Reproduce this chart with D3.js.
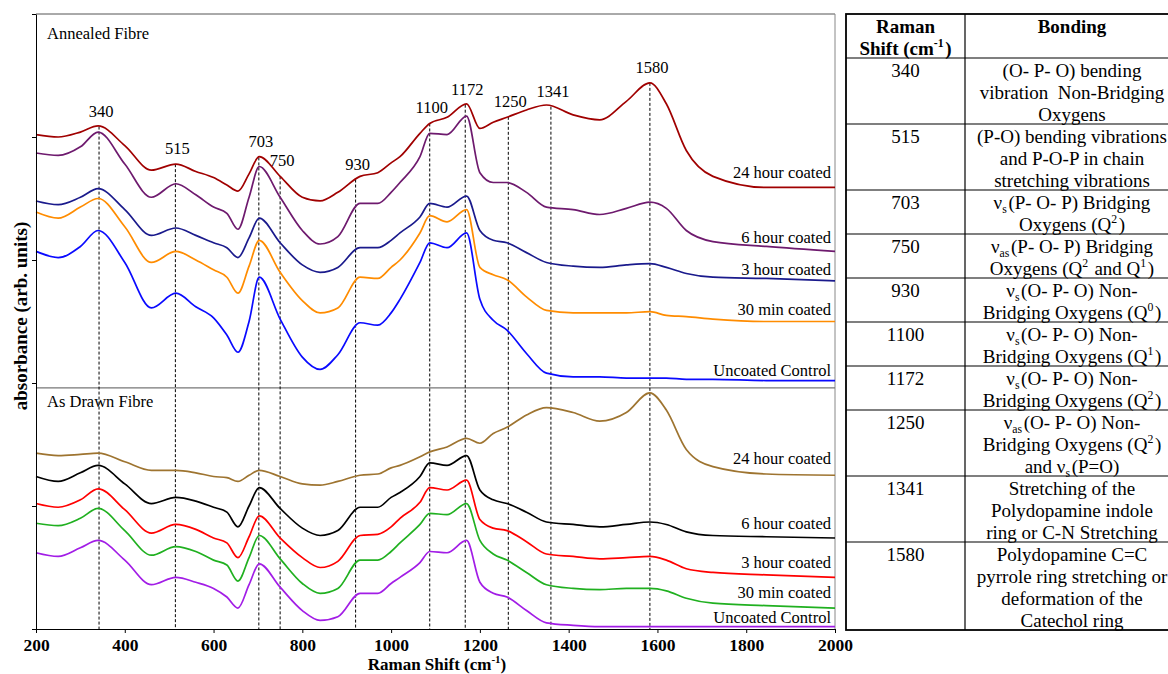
<!DOCTYPE html>
<html><head><meta charset="utf-8">
<script src="https://cdn.jsdelivr.net/npm/d3@7"></script>
<style>
html,body{margin:0;padding:0;background:#fff;}
svg{display:block;}
text{font-family:"Liberation Serif","Times New Roman",serif;fill:#000;}
</style></head><body>
<svg id="chart" width="1168" height="674"></svg>
<script>
// ---------- DATA ----------
const wavenumbers = [200,250,300,340,400,460,515,560,600,630,655,680,703,750,800,840,880,930,970,1000,1020,1065,1087,1126,1170,1200,1230,1261,1305,1350,1410,1470,1530,1583,1620,1665,1725,1845,2000];

// Annealed fibre (upper panel), absorbance in arb. units (stacked)
const annealed24h = [4.02,4.00,4.04,4.09,3.93,3.73,3.78,3.72,3.67,3.61,3.56,3.70,3.84,3.68,3.51,3.48,3.55,3.68,3.71,3.79,3.84,4.03,4.11,4.16,4.27,4.07,4.12,4.16,4.22,4.26,4.18,4.14,4.29,4.44,4.27,3.89,3.68,3.59,3.59];
const annealed6h  = [3.87,3.85,3.92,4.04,3.78,3.51,3.62,3.53,3.43,3.38,3.25,3.51,3.76,3.51,3.24,3.13,3.19,3.46,3.46,3.55,3.63,3.84,4.03,4.02,4.17,3.71,3.63,3.63,3.55,3.43,3.41,3.37,3.42,3.47,3.42,3.24,3.15,3.11,3.07];
const annealed3h  = [3.48,3.45,3.51,3.58,3.41,3.20,3.26,3.20,3.14,3.10,3.02,3.18,3.34,3.14,2.96,2.90,2.94,3.10,3.10,3.16,3.22,3.35,3.46,3.43,3.52,3.24,3.16,3.14,3.06,2.98,2.95,2.94,2.96,2.97,2.94,2.89,2.86,2.85,2.83];
const annealed30m = [3.39,3.34,3.43,3.50,3.27,2.98,3.07,3.00,2.92,2.86,2.73,2.95,3.16,2.90,2.67,2.57,2.61,2.86,2.85,2.94,3.00,3.22,3.36,3.31,3.41,2.94,2.88,2.84,2.70,2.59,2.57,2.57,2.57,2.58,2.55,2.54,2.52,2.50,2.50];
const annealedCtl = [3.07,3.02,3.11,3.24,2.98,2.61,2.73,2.62,2.53,2.39,2.25,2.50,2.86,2.52,2.21,2.11,2.23,2.49,2.47,2.57,2.68,2.98,3.14,3.10,3.22,2.68,2.51,2.43,2.24,2.08,2.05,2.05,2.04,2.04,2.04,2.03,2.03,2.02,2.02];

// As drawn fibre (lower panel)
const drawn24h = [1.43,1.41,1.42,1.43,1.36,1.29,1.29,1.27,1.24,1.23,1.20,1.25,1.29,1.24,1.18,1.17,1.20,1.25,1.26,1.31,1.33,1.40,1.44,1.48,1.55,1.51,1.59,1.64,1.74,1.80,1.76,1.69,1.76,1.92,1.78,1.46,1.32,1.26,1.25];
const drawn6h  = [1.24,1.20,1.27,1.33,1.18,1.02,1.07,1.04,0.99,0.95,0.83,1.00,1.15,0.98,0.82,0.76,0.80,0.99,0.99,1.07,1.11,1.24,1.35,1.33,1.41,1.13,1.05,1.02,0.95,0.87,0.85,0.83,0.85,0.87,0.85,0.79,0.76,0.75,0.74];
const drawn3h  = [1.02,0.99,1.05,1.14,0.97,0.78,0.85,0.81,0.74,0.70,0.58,0.75,0.92,0.74,0.58,0.50,0.55,0.76,0.77,0.83,0.90,1.03,1.15,1.13,1.21,0.89,0.82,0.80,0.71,0.61,0.59,0.57,0.58,0.59,0.56,0.49,0.46,0.44,0.42];
const drawn30m = [0.86,0.84,0.90,0.98,0.80,0.60,0.67,0.63,0.56,0.52,0.39,0.58,0.76,0.57,0.37,0.29,0.33,0.56,0.56,0.63,0.70,0.85,0.94,0.93,1.02,0.72,0.61,0.56,0.46,0.36,0.33,0.32,0.33,0.33,0.31,0.25,0.21,0.19,0.17];
const drawnCtl = [0.62,0.59,0.66,0.72,0.56,0.36,0.42,0.38,0.33,0.26,0.17,0.36,0.53,0.34,0.15,0.07,0.10,0.29,0.29,0.37,0.42,0.54,0.63,0.62,0.72,0.38,0.29,0.26,0.15,0.05,0.03,0.02,0.02,0.02,0.02,0.02,0.02,0.02,0.02];

const seriesNames = ["24 hour coated","6 hour coated","3 hour coated","30 min coated","Uncoated Control"];
const annealedColors = ["#a00000","#6e1a6e","#1a1a8c","#ff8c00","#0a0aff"];
const drawnColors    = ["#9e7430","#000000","#ff0000","#20b020","#a21de6"];

const panelTitles = ["Annealed Fibre","As Drawn Fibre"];
const panelDivider = 1.96;

const peakPositions = [342,514,702,750,920,1087,1167,1264,1360,1583];
const peakLabels    = ["340","515","703","750","930","1100","1172","1250","1341","1580"];

const xTicks = [200,400,600,800,1000,1200,1400,1600,1800,2000];
const yTicks = [0,1,2,3,4,5];

const tableShifts = ["340","515","703","750","930","1100","1172","1250","1341","1580"];
const tableBonding = [
  ["(O- P- O) bending","vibration  Non-Bridging","Oxygens"],
  ["(P-O) bending vibrations","and P-O-P in chain","stretching vibrations"],
  ["ν_{s}(P- O- P) Bridging","Oxygens (Q^{2})"],
  ["ν_{as}(P- O- P) Bridging","Oxygens (Q^{2} and Q^{1})"],
  ["ν_{s}(O- P- O) Non-","Bridging Oxygens (Q^{0})"],
  ["ν_{s}(O- P- O) Non-","Bridging Oxygens (Q^{1})"],
  ["ν_{s}(O- P- O) Non-","Bridging Oxygens (Q^{2})"],
  ["ν_{as}(O- P- O) Non-","Bridging Oxygens (Q^{2})","and ν_{s}(P=O)"],
  ["Stretching of the","Polydopamine indole","ring or C-N Stretching"],
  ["Polydopamine C=C","pyrrole ring stretching or","deformation of the","Catechol ring"]
];
const tableHeader = [["Raman","Shift (cm^{-1})"],["Bonding"]];

// ---------- DRAWING ----------
const svg = d3.select("#chart");
svg.append("rect").attr("width",1168).attr("height",674).attr("fill","#fff");

const x = d3.scaleLinear().domain([200,2000]).range([36,835]);
const y = d3.scaleLinear().domain([0,5]).range([629,14]);

// label offsets (px above the series' last point)
const annealedLabelDy = [9.5,8.5,5.5,6.5,4.5];
const drawnLabelDy    = [11.5,8.5,9.5,10.5,3.5];

const g = svg.append("g");

// frame (top, right) and panel divider
g.append("line").attr("x1",x(200)).attr("x2",x(2000)).attr("y1",y(5)).attr("y2",y(5)).attr("stroke","#555").attr("stroke-width",1);
g.append("line").attr("x1",x(2000)).attr("x2",x(2000)).attr("y1",y(5)).attr("y2",y(0)).attr("stroke","#888").attr("stroke-width",1);
g.append("line").attr("x1",x(200)).attr("x2",x(2000)).attr("y1",y(panelDivider)).attr("y2",y(panelDivider)).attr("stroke","#777").attr("stroke-width",1.2);

function interp(arr, w){
  return d3.scaleLinear().domain(wavenumbers).range(arr)(w);
}

// dashed peak marker lines + labels
const peaks = peakPositions.map((p,i)=>({p, label:peakLabels[i], top:interp(annealed24h,p)}));
g.selectAll(".peakline").data(peaks).join("line")
  .attr("x1",d=>x(d.p)).attr("x2",d=>x(d.p))
  .attr("y1",d=>y(d.top)).attr("y2",y(0))
  .attr("stroke","#000").attr("stroke-width",1).attr("stroke-dasharray","3,2");
g.selectAll(".peaklabel").data(peaks).join("text")
  .attr("x",d=>x(d.p)+2).attr("y",d=>y(d.top)-10)
  .attr("text-anchor","middle").attr("font-size","16.5px").text(d=>d.label);

// curves
const line = d3.line().x((d,i)=>x(wavenumbers[i])).y(d=>y(d)).curve(d3.curveMonotoneX);
const annealed = [annealed24h,annealed6h,annealed3h,annealed30m,annealedCtl];
const drawn = [drawn24h,drawn6h,drawn3h,drawn30m,drawnCtl];
const allSeries = [];
annealed.forEach((s,i)=>allSeries.push({vals:s,color:annealedColors[i],name:seriesNames[i],dy:annealedLabelDy[i]}));
drawn.forEach((s,i)=>allSeries.push({vals:s,color:drawnColors[i],name:seriesNames[i],dy:drawnLabelDy[i]}));

g.selectAll(".curve").data(allSeries).join("path")
  .attr("d",d=>line(d.vals)).attr("fill","none")
  .attr("stroke",d=>d.color).attr("stroke-width",1.7).attr("stroke-linejoin","round");

g.selectAll(".slabel").data(allSeries).join("text")
  .attr("x",x(2000)-4).attr("y",d=>y(d.vals[d.vals.length-1])-d.dy)
  .attr("text-anchor","end").attr("font-size","16.5px").text(d=>d.name);

// panel titles
g.append("text").attr("x",x(200)+11).attr("y",y(5)+25).attr("font-size","16.5px").text(panelTitles[0]);
g.append("text").attr("x",x(200)+11).attr("y",y(panelDivider)+19).attr("font-size","16.5px").text(panelTitles[1]);

// axes
const yAxis = g.append("g").attr("transform",`translate(${x(200)},0)`)
  .call(d3.axisLeft(y).tickValues(yTicks).tickSize(4).tickSizeOuter(0).tickFormat(""));
const xAxis = g.append("g").attr("transform",`translate(0,${y(0)})`)
  .call(d3.axisBottom(x).tickValues(xTicks).tickSize(4).tickSizeOuter(0).tickPadding(5.6).tickFormat(d3.format("d")));
[yAxis,xAxis].forEach(a=>{a.selectAll("path,line").attr("stroke","#000");});
xAxis.selectAll("text").attr("font-size","17.5px").attr("font-weight","bold")
  .attr("font-family","'Liberation Serif','Times New Roman',serif").attr("fill","#000");

// axis titles
const xt = g.append("text").attr("x",437).attr("y",670).attr("text-anchor","middle")
  .attr("font-size","17px").attr("font-weight","bold");
xt.append("tspan").text("Raman Shift (cm");
xt.append("tspan").attr("font-size","11px").attr("dy",-7).text("-1");
xt.append("tspan").attr("dy",7).text(")");

g.append("text").attr("transform","translate(26.5,316) rotate(-90)").attr("text-anchor","middle")
  .attr("font-size","19px").attr("font-weight","bold").text("absorbance (arb. units)");

// ---------- TABLE ----------
const tLeft = 846, tDiv = 965, tRight = 1173, tTop = 14, lineH = 22;
const c1 = (tLeft+tDiv)/2, c2 = 1072;
const tg = svg.append("g");

function richText(sel, str, fs){
  const parts = str.split(/(\^\{[^}]*\}|_\{[^}]*\})/).filter(s=>s.length);
  parts.forEach(p=>{
    if(p.startsWith("^{")){
      sel.append("tspan").attr("font-size",(fs*0.62)+"px").attr("dy",-fs*0.38).text(p.slice(2,-1));
      sel.append("tspan").attr("dy",fs*0.38).text("\u200A");
    } else if(p.startsWith("_{")){
      sel.append("tspan").attr("font-size",(fs*0.62)+"px").attr("dy",fs*0.22).text(p.slice(2,-1));
      sel.append("tspan").attr("dy",-fs*0.22).text("\u200A");
    } else {
      sel.append("tspan").text(p);
    }
  });
}

const rows = [{c1:tableHeader[0], c2:tableHeader[1], bold:true}];
tableShifts.forEach((s,i)=>rows.push({c1:[s], c2:tableBonding[i], bold:false}));
let cur = tTop;
rows.forEach(r=>{
  const n = Math.max(r.c1.length, r.c2.length);
  r.top = cur; r.h = n*lineH; cur += r.h;
});
const tBottom = cur;
const fs = 19;
rows.forEach((r,ri)=>{
  [[r.c1,c1],[r.c2,c2]].forEach(([lines,cx])=>{
    lines.forEach((ln,li)=>{
      const t = tg.append("text").attr("x",cx).attr("y",r.top+18.5+li*lineH)
        .attr("text-anchor","middle").attr("font-size",fs+"px")
        .attr("font-weight",r.bold?"bold":"normal").style("white-space","pre");
      richText(t, ln, fs);
    });
  });
  if(ri>0) tg.append("line").attr("x1",tLeft).attr("x2",tRight).attr("y1",r.top).attr("y2",r.top).attr("stroke","#000").attr("stroke-width",1.2);
});
tg.append("rect").attr("x",tLeft).attr("y",tTop).attr("width",tRight-tLeft).attr("height",tBottom-tTop)
  .attr("fill","none").attr("stroke","#000").attr("stroke-width",1.8);
tg.append("line").attr("x1",tDiv).attr("x2",tDiv).attr("y1",tTop).attr("y2",tBottom).attr("stroke","#000").attr("stroke-width",1.2);
</script>
</body></html>
